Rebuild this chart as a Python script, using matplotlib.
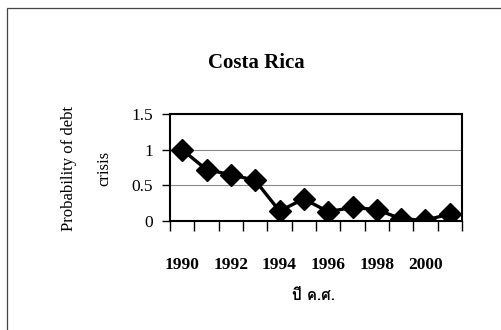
import matplotlib
matplotlib.use("Agg")
import matplotlib.pyplot as plt
from matplotlib import font_manager
from matplotlib.patches import Rectangle
from matplotlib.ticker import FixedLocator, NullFormatter
from fontTools.ttLib import TTFont

years = [1990, 1991, 1992, 1993, 1994, 1995, 1996, 1997, 1998, 1999, 2000, 2001]
probability = [1.0, 0.72, 0.65, 0.57, 0.14, 0.31, 0.13, 0.19, 0.16, 0.03, 0.01, 0.10]
y_ticks = [0, 0.5, 1, 1.5]
y_tick_labels = ["0", "0.5", "1", "1.5"]
title = "Costa Rica"
ylabel = "Probability of debt\ncrisis"
xlabel = "ปี ค.ศ."


def thai_font():
    # first installed font that has Thai glyphs
    for f in font_manager.fontManager.ttflist:
        try:
            tt = TTFont(f.fname, fontNumber=0, lazy=True)
            if 0x0E1B in tt.getBestCmap():
                return f.name
        except Exception:
            pass
    return "DejaVu Sans"


serif = "Liberation Serif"
plt.rcParams["font.family"] = serif

fig = plt.figure(figsize=(5.01, 3.30), dpi=100)
fig.patches.append(Rectangle((7 / 501, -0.1), 1.2, 1 - 8 / 330 + 0.1,
                             transform=fig.transFigure, fill=False,
                             edgecolor="#444444", linewidth=0.9))

ax = fig.add_axes([170 / 501, 109 / 330, 292 / 501, 107 / 330])
x = list(range(len(years)))
ax.plot(x, probability, color="black", linewidth=2.4, marker="D",
        markersize=11, markerfacecolor="black", markeredgecolor="black")

ax.set_xlim(-0.5, len(years) - 0.5)
ax.set_ylim(0, 1.5)
ax.set_yticks(y_ticks)
ax.set_yticklabels(y_tick_labels, fontsize=12.5)
ax.yaxis.grid(True, color="#888888", linewidth=0.8)
ax.set_axisbelow(True)

# tick marks at category boundaries, year labels every second year
ax.xaxis.set_major_locator(FixedLocator([i - 0.5 for i in range(len(years) + 1)]))
ax.xaxis.set_major_formatter(NullFormatter())
ax.xaxis.set_minor_locator(FixedLocator(x[::2]))
ax.set_xticklabels([str(y) for y in years[::2]], minor=True,
                   fontsize=12.5, fontweight="bold")
ax.tick_params(axis="x", which="major", length=7, width=1, direction="out")
ax.tick_params(axis="x", which="minor", length=0, pad=26)
ax.tick_params(axis="y", length=6, width=1, pad=6)

for s in ax.spines.values():
    s.set_linewidth(1.5)

fig.text(256 / 501, 1 - 63 / 330, title, ha="center", va="center",
         fontsize=15, fontweight="bold")
fig.text(87 / 501, 1 - 168 / 330, ylabel, rotation=90, ha="center",
         va="center", multialignment="center", linespacing=2.6, fontsize=12)
fig.text(313 / 501, 1 - 296 / 330, xlabel, ha="center", va="center",
         fontsize=11, fontweight="bold", family=[thai_font(), "DejaVu Sans"])

fig.savefig("out.png", dpi=100)
